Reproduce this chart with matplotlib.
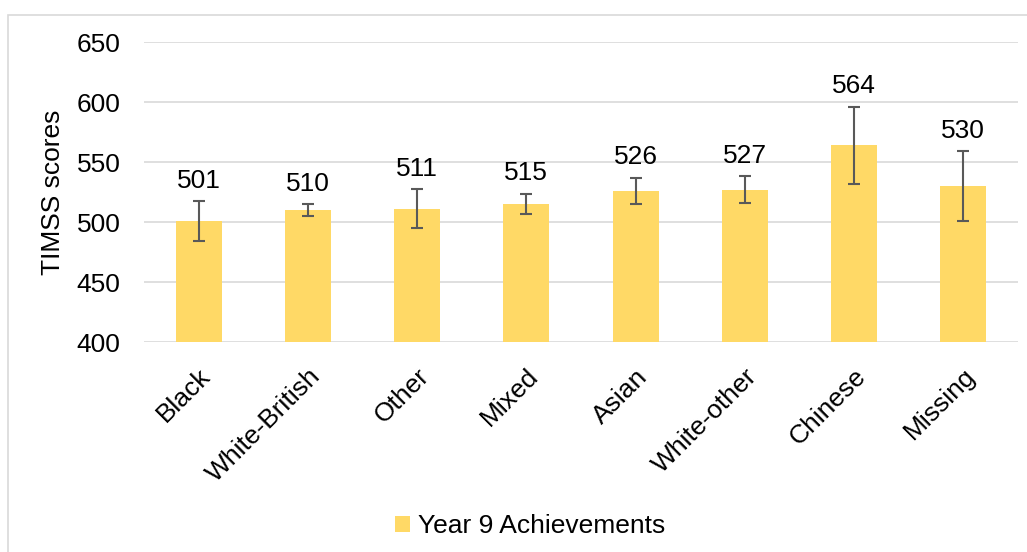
import matplotlib.pyplot as plt
from matplotlib.patches import Rectangle
import numpy as np

plt.rcParams['font.family'] = ['Liberation Sans', 'DejaVu Sans']

groups = ['Black', 'White-British', 'Other', 'Mixed', 'Asian', 'White-other', 'Chinese', 'Missing']
scores = [501, 510, 511, 515, 526, 527, 564, 530]
errors = [16.5, 4.7, 16.4, 8.5, 11, 11, 32, 29]

fig = plt.figure(figsize=(10.27, 5.52), dpi=100)
ax = fig.add_axes([144 / 1027, 1 - 342 / 552, (1018 - 144) / 1027, 300 / 552])

# chart border like the excel chart area
fig.patches.append(Rectangle((8 / 1027, -0.1), 1.2, 1.1 - 15 / 552, transform=fig.transFigure,
                             fill=False, edgecolor='#d9d9d9', linewidth=1.2))

x = np.arange(len(groups))
ax.bar(x, scores, width=0.42, color='#ffd966', label='Year 9 Achievements', zorder=2)
ax.errorbar(x, scores, yerr=errors, fmt='none', ecolor='#595959', elinewidth=1.5,
            capsize=4, capthick=1.5, zorder=3)
for xi, s, e in zip(x, scores, errors):
    ax.annotate(str(s), (xi, s + e), xytext=(0, 6), textcoords='offset points',
                ha='center', va='bottom', fontsize=19)

ax.set_ylim(400, 650)
ax.set_xlim(-0.5, len(groups) - 0.5)
ax.set_yticks(range(400, 651, 50))
ax.yaxis.grid(True, color='#d9d9d9', linewidth=1.2, zorder=0)
ax.set_axisbelow(True)
for sp in ax.spines.values():
    sp.set_visible(False)
ax.tick_params(length=0, labelsize=19)
ax.tick_params(axis='y', pad=17)
ax.set_xticks(x)
ax.set_xticklabels(groups, rotation=45, ha='right', rotation_mode='anchor')
ax.tick_params(axis='x', pad=16)
ax.set_ylabel('TIMSS scores', fontsize=19, labelpad=8)

fig.legend(loc='lower center', bbox_to_anchor=(0.516, -0.018), frameon=False, fontsize=19,
           handlelength=0.55, handleheight=0.55, handletextpad=0.3)

plt.savefig('out.png', dpi=100)
